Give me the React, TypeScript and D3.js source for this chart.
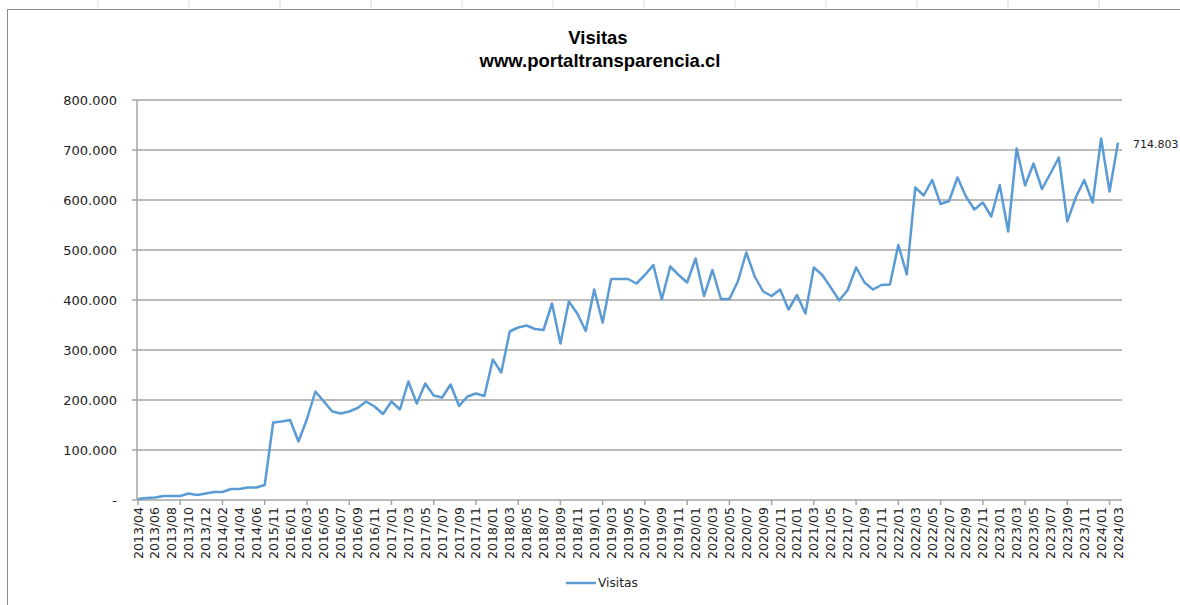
import React, { useEffect } from "react";
import * as d3 from "d3";

const width = 1180;
const height = 605;

// month labels, as on the sheet (there is a jump between 2014/07 and 2015/11)
const months = [
  "2013/04", "2013/05", "2013/06", "2013/07", "2013/08", "2013/09", "2013/10", "2013/11", "2013/12",
  "2014/01", "2014/02", "2014/03", "2014/04", "2014/05", "2014/06", "2014/07",
  "2015/11", "2015/12",
  "2016/01", "2016/02", "2016/03", "2016/04", "2016/05", "2016/06", "2016/07", "2016/08", "2016/09", "2016/10", "2016/11", "2016/12",
  "2017/01", "2017/02", "2017/03", "2017/04", "2017/05", "2017/06", "2017/07", "2017/08", "2017/09", "2017/10", "2017/11", "2017/12",
  "2018/01", "2018/02", "2018/03", "2018/04", "2018/05", "2018/06", "2018/07", "2018/08", "2018/09", "2018/10", "2018/11", "2018/12",
  "2019/01", "2019/02", "2019/03", "2019/04", "2019/05", "2019/06", "2019/07", "2019/08", "2019/09", "2019/10", "2019/11", "2019/12",
  "2020/01", "2020/02", "2020/03", "2020/04", "2020/05", "2020/06", "2020/07", "2020/08", "2020/09", "2020/10", "2020/11", "2020/12",
  "2021/01", "2021/02", "2021/03", "2021/04", "2021/05", "2021/06", "2021/07", "2021/08", "2021/09", "2021/10", "2021/11", "2021/12",
  "2022/01", "2022/02", "2022/03", "2022/04", "2022/05", "2022/06", "2022/07", "2022/08", "2022/09", "2022/10", "2022/11", "2022/12",
  "2023/01", "2023/02", "2023/03", "2023/04", "2023/05", "2023/06", "2023/07", "2023/08", "2023/09", "2023/10", "2023/11", "2023/12",
  "2024/01", "2024/02", "2024/03",
];

const visitas = [
  2000, 4000, 5000, 8000, 8000, 8000, 13000, 10000, 13000,
  16000, 16000, 22000, 22000, 25000, 25000, 30000,
  155000, 157000,
  160000, 117000, 162000, 217000, 197000, 177000, 173000, 177000, 184000, 197000, 187000, 172000,
  197000, 181000, 237000, 193000, 233000, 209000, 205000, 231000, 188000, 207000, 213000, 208000,
  281000, 255000, 337000, 345000, 349000, 342000, 340000, 393000, 313000, 397000, 373000, 338000,
  421000, 355000, 442000, 442000, 442000, 433000, 450000, 470000, 401000, 467000, 450000, 435000,
  483000, 408000, 460000, 402000, 402000, 437000, 495000, 447000, 417000, 408000, 421000, 381000,
  410000, 373000, 465000, 450000, 425000, 399000, 420000, 465000, 435000, 421000, 430000, 431000,
  510000, 451000, 625000, 609000, 640000, 592000, 598000, 645000, 607000, 581000, 595000, 567000,
  630000, 537000, 703000, 629000, 673000, 622000, 653000, 685000, 557000, 605000, 640000, 595000,
  723000, 617000, 714803,
];

const yTicks = [0, 100000, 200000, 300000, 400000, 500000, 600000, 700000, 800000];

// spanish style thousands, dash for zero
const fmt = (v: number) => (v === 0 ? "-" : d3.format(",")(v).replace(/,/g, "."));

const left = 137;
const right = 1120;
const top = 100;
const bottom = 500;
const axisFont = "'DejaVu Sans', sans-serif";
const blue = "#5b9bd5";
const grid = "#a3a3a3";

export default function App() {
  useEffect(() => {
    document.body.style.margin = "0";
  }, []);

  const x = d3.scalePoint<string>().domain(months).range([left + 1, right - 2]);
  const y = d3.scaleLinear().domain([0, 800000]).range([bottom, top]);

  const line = d3
    .line<number>()
    .x((d, i) => x(months[i]) as number)
    .y((d) => y(d));

  const last = visitas.length - 1;
  const sheetCols = d3.range(98, width, 91);

  return (
    <svg width={width} height={height} style={{ display: "block", background: "#fff" }}>
      {/* spreadsheet bits behind the chart */}
      {sheetCols.map((cx) => (
        <line key={cx} x1={cx} x2={cx} y1={0} y2={8} stroke="#dcdcdc" />
      ))}
      <line x1={7.5} x2={7.5} y1={9} y2={height} stroke="#8c8c8c" />
      <line x1={7.5} x2={width} y1={9.5} y2={9.5} stroke="#8c8c8c" />

      <text x={598} y={44} textAnchor="middle" fontFamily="'Liberation Sans', Arial, sans-serif" fontWeight="bold" fontSize={18.5}>
        Visitas
      </text>
      <text x={600} y={67} textAnchor="middle" fontFamily="'Liberation Sans', Arial, sans-serif" fontWeight="bold" fontSize={18.5}>
        www.portaltransparencia.cl
      </text>

      {yTicks.map((t) => (
        <g key={t}>
          <line x1={left - 5} x2={right + 2} y1={y(t)} y2={y(t)} stroke={grid} strokeWidth={1.5} />
          <text
            x={117}
            y={y(t)}
            dy="0.35em"
            textAnchor="end"
            fontFamily={axisFont}
            fontSize={13}
            fill="#222"
          >
            {fmt(t)}
          </text>
        </g>
      ))}
      <line x1={left} x2={left} y1={top} y2={bottom} stroke={grid} strokeWidth={1.5} />

      {months.map((m, i) =>
        i % 5 === 0 ? (
          <line key={"t" + m} x1={x(m)} x2={x(m)} y1={bottom} y2={bottom + 5} stroke={grid} strokeWidth={1.5} />
        ) : null
      )}
      {months.map((m, i) =>
        i % 2 === 0 ? (
          <text
            key={m}
            transform={`translate(${x(m)},${bottom + 7}) rotate(-90)`}
            dy="0.36em"
            textAnchor="end"
            fontFamily={axisFont}
            fontSize={12.5}
            fill="#222"
          >
            {m}
          </text>
        ) : null
      )}

      <path d={line(visitas) || ""} fill="none" stroke={blue} strokeWidth={2.5} strokeLinejoin="round" />

      <text
        x={(x(months[last]) as number) + 15}
        y={y(visitas[last]) + 2}
        dy="0.35em"
        fontFamily={axisFont}
        fontSize={11}
        fill="#222"
      >
        {fmt(visitas[last])}
      </text>

      <line x1={566} x2={596} y1={583} y2={583} stroke={blue} strokeWidth={2.5} />
      <text x={598} y={583} dy="0.35em" fontFamily={axisFont} fontSize={12.2} fill="#222">
        Visitas
      </text>
    </svg>
  );
}
